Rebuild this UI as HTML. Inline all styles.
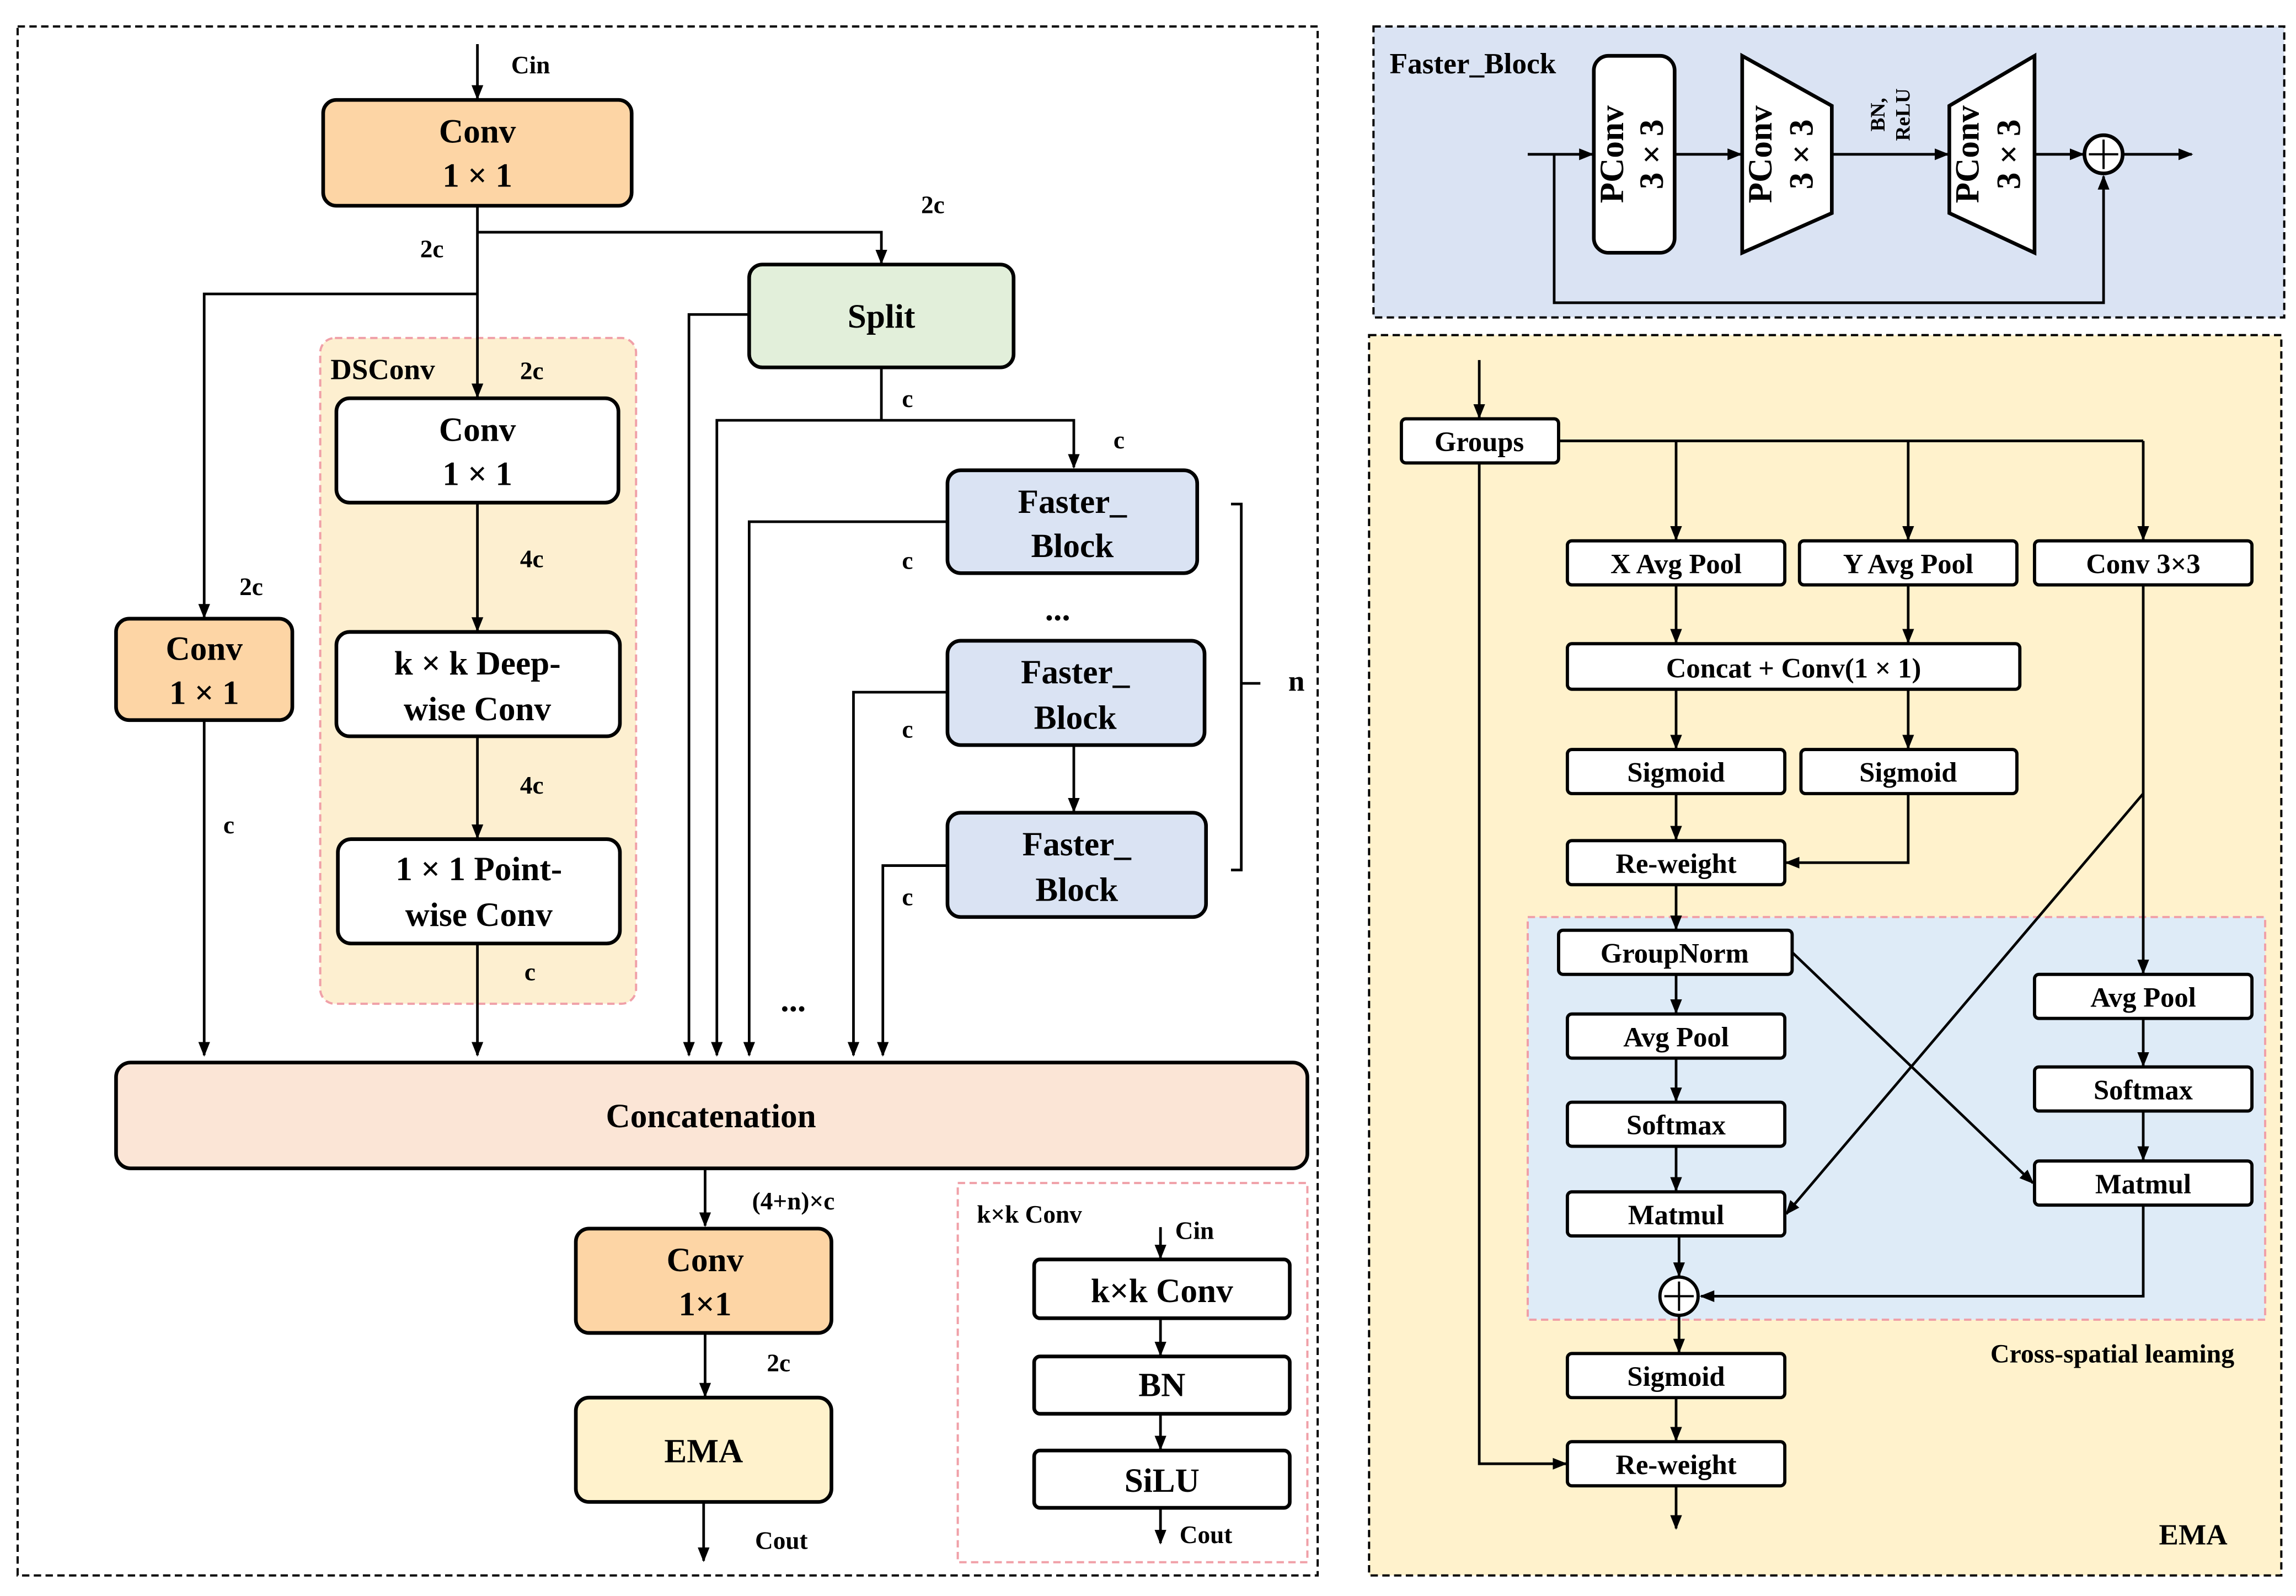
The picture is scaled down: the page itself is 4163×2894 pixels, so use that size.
<!DOCTYPE html>
<html><head><meta charset="utf-8"><style>
html,body{margin:0;padding:0;background:#fff;}
svg{display:block;}
text{font-family:"Liberation Serif","DejaVu Serif",serif;font-weight:bold;fill:#000;}
.b{font-size:23px;}
.s{font-size:17px;}
.m{font-size:20px;}
</style></head><body>
<svg width="4163" height="2894" viewBox="0 0 1563 1086" preserveAspectRatio="none" xmlns="http://www.w3.org/2000/svg" font-family="Liberation Serif, serif" font-weight="bold">
<defs>
<marker id="a" markerWidth="10" markerHeight="10" refX="9" refY="5" orient="auto" markerUnits="userSpaceOnUse"><path d="M0,1 L10,5 L0,9 z" fill="#000"/></marker>
</defs>
<rect width="1563" height="1086" fill="#fff"/>
<rect x="12" y="18" width="885" height="1054" fill="none" stroke="#000" stroke-width="1.5" stroke-dasharray="5,3"/>
<rect x="218" y="230" width="215" height="453" rx="10" fill="#fdefd0" stroke="#f0a0a8" stroke-width="1.5" stroke-dasharray="5,3"/>
<rect x="652" y="805" width="238" height="258" fill="#fff" stroke="#f0a0a8" stroke-width="1.5" stroke-dasharray="5,3"/>
<g stroke="#000" stroke-width="1.8" fill="none">
<line x1="325" y1="30" x2="325" y2="67" marker-end="url(#a)"/>
<line x1="325" y1="140" x2="325" y2="270" marker-end="url(#a)"/>
<polyline points="325,158 600,158 600,179" marker-end="url(#a)"/>
<polyline points="325,200 139,200 139,420" marker-end="url(#a)"/>
<polyline points="510,214 469,214 469,718" marker-end="url(#a)"/>
<polyline points="600,250 600,286 488,286 488,718" marker-end="url(#a)"/>
<polyline points="600,286 731,286 731,318" marker-end="url(#a)"/>
<polyline points="645,355 510,355 510,718" marker-end="url(#a)"/>
<polyline points="645,471 581,471 581,718" marker-end="url(#a)"/>
<line x1="731" y1="507" x2="731" y2="552" marker-end="url(#a)"/>
<polyline points="645,589 601,589 601,718" marker-end="url(#a)"/>
<polyline points="838,343 845,343 845,592 838,592"/>
<line x1="845" y1="465" x2="858" y2="465"/>
<line x1="325" y1="342" x2="325" y2="429" marker-end="url(#a)"/>
<line x1="325" y1="501" x2="325" y2="570" marker-end="url(#a)"/>
<line x1="325" y1="642" x2="325" y2="718" marker-end="url(#a)"/>
<line x1="139" y1="490" x2="139" y2="718" marker-end="url(#a)"/>
<line x1="480" y1="795" x2="480" y2="834" marker-end="url(#a)"/>
<line x1="480" y1="907" x2="480" y2="950" marker-end="url(#a)"/>
<line x1="479" y1="1022" x2="479" y2="1062" marker-end="url(#a)"/>
<line x1="790" y1="835" x2="790" y2="856" marker-end="url(#a)"/>
<line x1="790" y1="897" x2="790" y2="922" marker-end="url(#a)"/>
<line x1="790" y1="962" x2="790" y2="986" marker-end="url(#a)"/>
<line x1="790" y1="1026" x2="790" y2="1050" marker-end="url(#a)"/>
</g>
<g stroke="#000" stroke-width="2.5">
<rect x="220" y="68" width="210" height="72" rx="9" fill="#fdd5a5"/>
<rect x="510" y="180" width="180" height="70" rx="9" fill="#e2efda"/>
<rect x="645" y="320" width="170" height="70" rx="9" fill="#dae3f3"/>
<rect x="645" y="436" width="175" height="71" rx="9" fill="#dae3f3"/>
<rect x="645" y="553" width="176" height="71" rx="9" fill="#dae3f3"/>
<rect x="229" y="271" width="192" height="71" rx="9" fill="#fff"/>
<rect x="229" y="430" width="193" height="71" rx="9" fill="#fff"/>
<rect x="230" y="571" width="192" height="71" rx="9" fill="#fff"/>
<rect x="79" y="421" width="120" height="69" rx="9" fill="#fdd5a5"/>
<rect x="79" y="723" width="811" height="72" rx="10" fill="#fbe5d6"/>
<rect x="392" y="836" width="174" height="71" rx="9" fill="#fdd5a5"/>
<rect x="392" y="951" width="174" height="71" rx="9" fill="#fff2cc"/>
<rect x="704" y="857" width="174" height="40" rx="4" fill="#fff"/>
<rect x="704" y="923" width="174" height="39" rx="4" fill="#fff"/>
<rect x="704" y="987" width="174" height="39" rx="4" fill="#fff"/>
</g>
<g class="b" text-anchor="middle">
<text x="325" y="97">Conv</text><text x="325" y="127">1 × 1</text>
<text x="600" y="223">Split</text>
<text x="730" y="349">Faster_</text><text x="730" y="379">Block</text>
<text x="732" y="465">Faster_</text><text x="732" y="496">Block</text>
<text x="733" y="582">Faster_</text><text x="733" y="613">Block</text>
<text x="325" y="300">Conv</text><text x="325" y="330">1 × 1</text>
<text x="325" y="459">k × k Deep-</text><text x="325" y="490">wise Conv</text>
<text x="326" y="599">1 × 1 Point-</text><text x="326" y="630">wise Conv</text>
<text x="139" y="449">Conv</text><text x="139" y="479">1 × 1</text>
<text x="484" y="767">Concatenation</text>
<text x="480" y="865">Conv</text><text x="480" y="895">1×1</text>
<text x="479" y="995">EMA</text>
<text x="791" y="886">k×k Conv</text>
<text x="791" y="950">BN</text>
<text x="791" y="1015">SiLU</text>
<text x="720" y="422">...</text>
<text x="540" y="688">...</text>
</g>
<g class="s">
<text x="348" y="50">Cin</text>
<text x="286" y="175">2c</text>
<text x="627" y="145">2c</text>
<text x="163" y="405">2c</text>
<text x="614" y="277">c</text>
<text x="758" y="305">c</text>
<text x="614" y="387">c</text>
<text x="614" y="502">c</text>
<text x="614" y="616">c</text>
<text x="877" y="470" class="m">n</text>
<text x="354" y="258">2c</text>
<text x="354" y="386">4c</text>
<text x="354" y="540">4c</text>
<text x="357" y="667">c</text>
<text x="152" y="567">c</text>
<text x="512" y="823">(4+n)×c</text>
<text x="522" y="933">2c</text>
<text x="514" y="1054">Cout</text>
<text x="665" y="832">k×k Conv</text>
<text x="800" y="843">Cin</text>
<text x="803" y="1050">Cout</text>
</g>
<text x="225" y="258" class="m">DSConv</text>

<rect x="935" y="18" width="620" height="198" fill="#dae3f3" stroke="#000" stroke-width="1.5" stroke-dasharray="5,3"/>
<text x="946" y="50" class="m">Faster_Block</text>
<g stroke="#000" stroke-width="1.8" fill="none">
<line x1="1040" y1="105" x2="1084" y2="105" marker-end="url(#a)"/>
<polyline points="1058,105 1058,206 1432,206 1432,120" marker-end="url(#a)"/>
<line x1="1140" y1="105" x2="1185" y2="105" marker-end="url(#a)"/>
<line x1="1247" y1="105" x2="1326" y2="105" marker-end="url(#a)"/>
<line x1="1385" y1="105" x2="1418" y2="105" marker-end="url(#a)"/>
<line x1="1446" y1="105" x2="1492" y2="105" marker-end="url(#a)"/>
</g>
<g stroke="#000" stroke-width="2.5" fill="#fff">
<rect x="1085" y="38" width="55" height="134" rx="10"/>
<polygon points="1186,38 1247,72 1247,145 1186,172"/>
<polygon points="1327,72 1385,38 1385,172 1327,145"/>
<circle cx="1432" cy="105" r="13"/>
</g>
<g stroke="#000" stroke-width="1.5"><line x1="1422" y1="105" x2="1442" y2="105"/><line x1="1432" y1="95" x2="1432" y2="115"/></g>
<g class="b" text-anchor="middle">
<text transform="translate(1105,105) rotate(-90)">PConv</text>
<text transform="translate(1132,105) rotate(-90)">3 × 3</text>
<text transform="translate(1206,105) rotate(-90)">PConv</text>
<text transform="translate(1234,105) rotate(-90)">3 × 3</text>
<text transform="translate(1347,105) rotate(-90)">PConv</text>
<text transform="translate(1375,105) rotate(-90)">3 × 3</text>
</g>
<text class="s" text-anchor="middle" transform="translate(1283,78) rotate(-90)" style="font-size:14px">BN,</text>
<text class="s" text-anchor="middle" transform="translate(1300,78) rotate(-90)" style="font-size:14px">ReLU</text>

<rect x="932" y="228" width="621" height="844" fill="#fff2cc" stroke="#000" stroke-width="1.5" stroke-dasharray="5,3"/>
<rect x="1040" y="624" width="502" height="274" fill="#deebf7" stroke="#f0a0a8" stroke-width="1.5" stroke-dasharray="5,3"/>
<g stroke="#000" stroke-width="1.8" fill="none">
<line x1="1007" y1="245" x2="1007" y2="284" marker-end="url(#a)"/>
<line x1="1061" y1="300" x2="1459" y2="300"/>
<line x1="1141" y1="300" x2="1141" y2="367" marker-end="url(#a)"/>
<line x1="1299" y1="300" x2="1299" y2="367" marker-end="url(#a)"/>
<line x1="1459" y1="300" x2="1459" y2="367" marker-end="url(#a)"/>
<line x1="1141" y1="398" x2="1141" y2="437" marker-end="url(#a)"/>
<line x1="1299" y1="398" x2="1299" y2="437" marker-end="url(#a)"/>
<line x1="1141" y1="469" x2="1141" y2="509" marker-end="url(#a)"/>
<line x1="1299" y1="469" x2="1299" y2="509" marker-end="url(#a)"/>
<line x1="1141" y1="540" x2="1141" y2="571" marker-end="url(#a)"/>
<polyline points="1299,540 1299,587 1216,587" marker-end="url(#a)"/>
<line x1="1141" y1="602" x2="1141" y2="632" marker-end="url(#a)"/>
<line x1="1141" y1="663" x2="1141" y2="689" marker-end="url(#a)"/>
<line x1="1141" y1="720" x2="1141" y2="749" marker-end="url(#a)"/>
<line x1="1141" y1="780" x2="1141" y2="810" marker-end="url(#a)"/>
<line x1="1143" y1="841" x2="1143" y2="868" marker-end="url(#a)"/>
<line x1="1143" y1="896" x2="1143" y2="920" marker-end="url(#a)"/>
<line x1="1141" y1="951" x2="1141" y2="980" marker-end="url(#a)"/>
<line x1="1141" y1="1011" x2="1141" y2="1040" marker-end="url(#a)"/>
<polyline points="1007,315 1007,996 1066,996" marker-end="url(#a)"/>
<line x1="1459" y1="398" x2="1459" y2="662" marker-end="url(#a)"/>
<line x1="1459" y1="693" x2="1459" y2="725" marker-end="url(#a)"/>
<line x1="1459" y1="756" x2="1459" y2="789" marker-end="url(#a)"/>
<polyline points="1459,820 1459,882 1158,882" marker-end="url(#a)"/>
<line x1="1459" y1="540" x2="1216" y2="826" marker-end="url(#a)"/>
<line x1="1220" y1="648" x2="1384" y2="805" marker-end="url(#a)"/>
</g>
<g stroke="#000" stroke-width="2.2" fill="#fff">
<rect x="954" y="285" width="107" height="30" rx="3"/>
<rect x="1067" y="368" width="148" height="30" rx="3"/>
<rect x="1225" y="368" width="148" height="30" rx="3"/>
<rect x="1385" y="368" width="148" height="30" rx="3"/>
<rect x="1067" y="438" width="308" height="31" rx="3"/>
<rect x="1067" y="510" width="148" height="30" rx="3"/>
<rect x="1226" y="510" width="147" height="30" rx="3"/>
<rect x="1067" y="572" width="148" height="30" rx="3"/>
<rect x="1061" y="633" width="159" height="30" rx="3"/>
<rect x="1067" y="690" width="148" height="30" rx="3"/>
<rect x="1067" y="750" width="148" height="30" rx="3"/>
<rect x="1067" y="811" width="148" height="30" rx="3"/>
<rect x="1385" y="663" width="148" height="30" rx="3"/>
<rect x="1385" y="726" width="148" height="30" rx="3"/>
<rect x="1385" y="790" width="148" height="30" rx="3"/>
<rect x="1067" y="921" width="148" height="30" rx="3"/>
<rect x="1067" y="981" width="148" height="30" rx="3"/>
<circle cx="1143" cy="882" r="13"/>
</g>
<g stroke="#000" stroke-width="1.5"><line x1="1133" y1="882" x2="1153" y2="882"/><line x1="1143" y1="872" x2="1143" y2="892"/></g>
<g class="m" text-anchor="middle" style="font-size:19px">
<text x="1007" y="307">Groups</text>
<text x="1141" y="390">X Avg Pool</text>
<text x="1299" y="390">Y Avg Pool</text>
<text x="1459" y="390">Conv 3×3</text>
<text x="1221" y="461">Concat + Conv(1 × 1)</text>
<text x="1141" y="532">Sigmoid</text>
<text x="1299" y="532">Sigmoid</text>
<text x="1141" y="594">Re-weight</text>
<text x="1140" y="655">GroupNorm</text>
<text x="1141" y="712">Avg Pool</text>
<text x="1141" y="772">Softmax</text>
<text x="1141" y="833">Matmul</text>
<text x="1459" y="685">Avg Pool</text>
<text x="1459" y="748">Softmax</text>
<text x="1459" y="812">Matmul</text>
<text x="1141" y="943">Sigmoid</text>
<text x="1141" y="1003">Re-weight</text>
</g>
<text x="1438" y="927" class="s" text-anchor="middle" style="font-size:18px">Cross-spatial leaming</text>
<text x="1493" y="1051" class="m" text-anchor="middle">EMA</text>
</svg>
</body></html>
